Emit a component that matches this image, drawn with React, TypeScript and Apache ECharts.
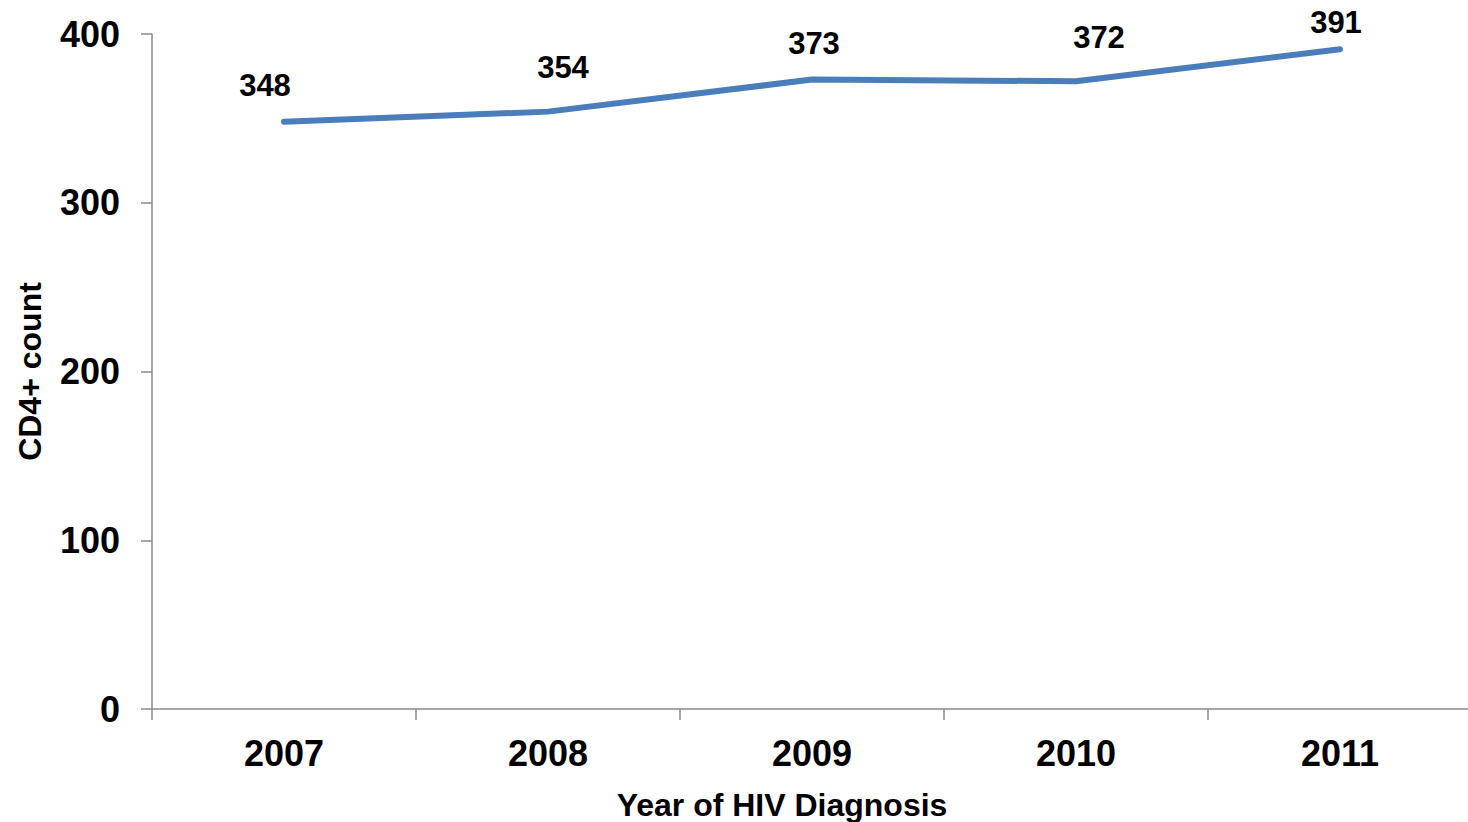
import React, { useEffect, useRef } from "react";
import * as echarts from "echarts";

const years = ["2007", "2008", "2009", "2010", "2011"];
const cd4Counts = [348, 354, 373, 372, 391];
const yTicks = { min: 0, max: 400, interval: 100 };

// hand-placed label nudges (pixels), as in the original slide
const labelNudges: [number, number][] = [
  [-19, 0],
  [15, -8],
  [2, 0],
  [23, -8],
  [-4, 9],
];

export default function App() {
  const ref = useRef<HTMLDivElement>(null);
  useEffect(() => {
    if (!ref.current) return;
    const chart = echarts.init(ref.current, undefined, { renderer: "svg" });
    const font = "'Liberation Sans', Arial, sans-serif";
    const axisColor = "#8a8a8a";
    chart.setOption({
      animation: false,
      backgroundColor: "#ffffff",
      grid: {
        left: 152,
        top: 34,
        width: 1320,
        height: 675,
        containLabel: false,
        outerBoundsMode: "none",
      },
      xAxis: {
        type: "category",
        data: years,
        boundaryGap: true,
        name: "Year of HIV Diagnosis",
        nameLocation: "middle",
        nameGap: 80,
        nameTextStyle: {
          fontFamily: font,
          fontWeight: "bold",
          fontSize: 32,
          color: "#000",
          padding: [0, 60, 0, 0],
        },
        axisLine: { lineStyle: { color: axisColor, width: 1.5 } },
        axisTick: { show: true, length: 11, alignWithLabel: false, lineStyle: { color: axisColor, width: 1.5 } },
        axisLabel: { fontFamily: font, fontWeight: "bold", fontSize: 36, color: "#000", margin: 26 },
        splitLine: { show: false },
      },
      yAxis: {
        type: "value",
        min: yTicks.min,
        max: yTicks.max,
        interval: yTicks.interval,
        name: "CD4+ count",
        nameLocation: "middle",
        nameGap: 106,
        nameRotate: 90,
        nameTextStyle: { fontFamily: font, fontWeight: "bold", fontSize: 32, color: "#000" },
        axisLine: { show: true, lineStyle: { color: axisColor, width: 1.5 } },
        axisTick: { show: true, length: 11, lineStyle: { color: axisColor, width: 1.5 } },
        axisLabel: { fontFamily: font, fontWeight: "bold", fontSize: 36, color: "#000", margin: 32 },
        splitLine: { show: false },
      },
      series: [
        {
          type: "line",
          data: cd4Counts.map((v, i) => ({ value: v, label: { offset: labelNudges[i] } })),
          symbol: "circle",
          symbolSize: 1,
          showSymbol: true,
          itemStyle: { color: "rgba(74,126,187,0)" },
          lineStyle: { color: "#4a7ebb", width: 6, cap: "round", join: "round" },
          label: {
            show: true,
            position: "top",
            distance: 20,
            fontFamily: font,
            fontWeight: "bold",
            fontSize: 31,
            color: "#000",
          },
        },
      ],
    });
    return () => chart.dispose();
  }, []);
  return (
    <div
      ref={ref}
      style={{ position: "absolute", left: 0, top: 0, width: 1468, height: 822, overflow: "hidden" }}
    />
  );
}
